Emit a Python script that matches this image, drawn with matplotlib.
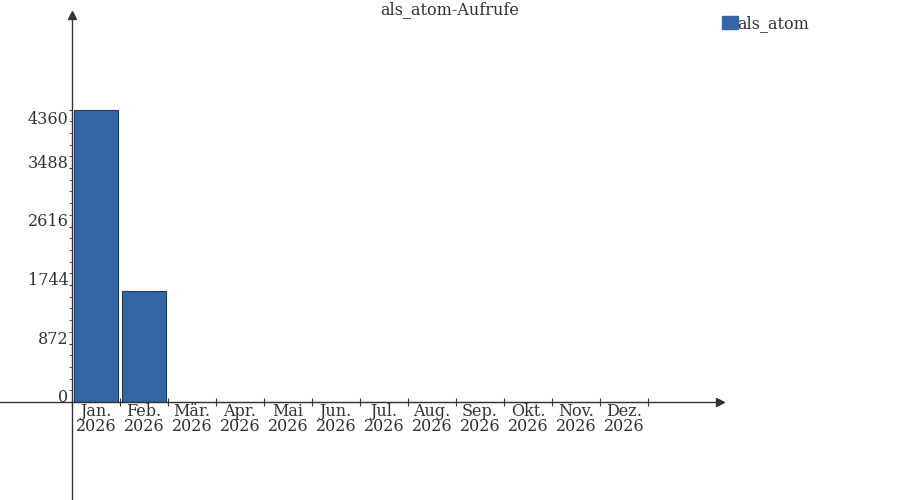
import matplotlib.pyplot as plt
import matplotlib.transforms as mtransforms
from matplotlib.ticker import FixedLocator
import numpy as np

plt.rcParams['font.family'] = 'DejaVu Serif'

months = ['Jan.', 'Feb.', 'Mär.', 'Apr.', 'Mai', 'Jun.', 'Jul.', 'Aug.', 'Sep.', 'Okt.', 'Nov.', 'Dez.']
year = '2026'
calls = [4360, 1655, 0, 0, 0, 0, 0, 0, 0, 0, 0, 0]
series_name = 'als_atom'
title = 'als_atom-Aufrufe'

bar_col = '#3465a4'
edge_col = '#1f3a5f'
ax_col = '#333333'
fs = 11.5

fig = plt.figure(figsize=(9, 5), dpi=100)
ax = fig.add_axes([0, 0, 720 / 900, 485 / 500])

x = np.arange(len(months))
ax.bar(x, calls, width=0.9, color=bar_col, edgecolor=edge_col, linewidth=0.8, zorder=2)

# 48 px per month, 58.5 px per 872 calls
ax.set_xlim(-2, 13)
upp = 872 / 58.5
ax.set_ylim(-98 * upp, 387 * upp)

for s in ['top', 'right']:
    ax.spines[s].set_visible(False)
ax.spines['left'].set_position(('data', -0.5))
ax.spines['bottom'].set_position(('data', 0))
for s in ['left', 'bottom']:
    ax.spines[s].set_color(ax_col)
    ax.spines[s].set_linewidth(1.0)

# arrow heads
ax.plot(1, 0, '>', color=ax_col, markersize=6, transform=ax.get_yaxis_transform(), clip_on=False)
ax.plot(-0.5, 1, '^', color=ax_col, markersize=6, transform=ax.get_xaxis_transform(), clip_on=False)

step = max(calls) / 5
yt = [step * i for i in range(6)]
ax.set_yticks(yt)
ax.set_yticklabels([str(int(v)) for v in yt], va='baseline')
ax.yaxis.set_minor_locator(FixedLocator(np.arange(0, max(calls) + step / 5, step / 5)))
ax.tick_params(axis='y', which='major', length=2, color=ax_col, labelsize=fs,
               labelcolor='#333333', pad=0.5)
ax.tick_params(axis='y', which='minor', length=2, color=ax_col)

# top label sits a bit lower in the original
top_lbl = ax.yaxis.get_major_ticks()[-1].label1
top_lbl.set_transform(top_lbl.get_transform() +
                      mtransforms.ScaledTranslation(0, -14 / 100, fig.dpi_scale_trans))

ax.set_xticks(np.arange(len(months) + 1) - 0.5)
ax.set_xticklabels([])
ax.set_xticks(x, minor=True)
ax.set_xticklabels([m + '\n' + year for m in months], minor=True, linespacing=0.85)
ax.tick_params(axis='x', which='major', direction='inout', length=6, color=ax_col)
ax.tick_params(axis='x', which='minor', length=0, labelsize=fs, labelcolor='#333333', pad=0.5)

ax.patch.set_alpha(0)
fig.text(0.5, 0.998, title, ha='center', va='top', fontsize=fs, color='#333333')

handle = plt.Rectangle((0, 0), 1, 1, color=bar_col)
fig.legend([handle], [series_name], loc='upper left', bbox_to_anchor=(716 / 900, 0.983),
           frameon=False, fontsize=fs, handlelength=0.95, handleheight=0.95,
           handletextpad=0.0, borderaxespad=0, labelcolor='#333333')

fig.savefig('out.png', dpi=100)
